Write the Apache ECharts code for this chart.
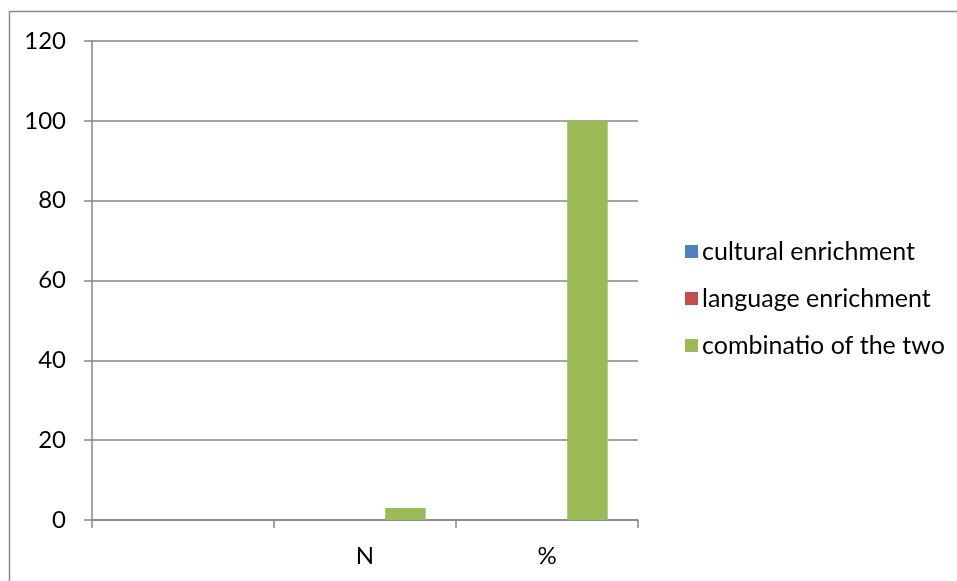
<!DOCTYPE html>
<html>
<head>
<meta charset="utf-8">
<script src="https://cdn.jsdelivr.net/npm/echarts@6/dist/echarts.min.js"></script>
<style>
html,body{margin:0;padding:0;background:#fff;overflow:hidden;}
#c{width:957px;height:581px;}
</style>
</head>
<body>
<div id="c"></div>
<script>
const categories = ['', 'N', '%'];
const culturalEnrichment = [0, 0, 0];
const languageEnrichment = [0, 0, 0];
const combinationOfTwo = [0, 3, 100];
const yTicks = [0, 20, 40, 60, 80, 100, 120];

const FONT = 'Lato';
const GRAY = '#868686';
const chart = echarts.init(document.getElementById('c'));
chart.setOption({
  animation: false,
  backgroundColor: '#fff',
  graphic: [
    { type: 'line', shape: { x1: 9, y1: 11.5, x2: 1000, y2: 11.5 }, style: { stroke: '#8c8c8c', lineWidth: 1.5 } },
    { type: 'line', shape: { x1: 9.5, y1: 11, x2: 9.5, y2: 700 }, style: { stroke: '#8c8c8c', lineWidth: 1.5 } }
  ],
  grid: { left: 92, top: 41, width: 546, height: 479 },
  legend: {
    orient: 'vertical',
    left: 680, top: 234,
    itemWidth: 13, itemHeight: 13, itemGap: 22,
    icon: 'rect',
    textStyle: { fontFamily: FONT, fontSize: 25, color: '#000', padding: [0, 0, 0, -1] },
    data: ['cultural enrichment', 'language enrichment', 'combinatio of the two']
  },
  xAxis: {
    type: 'category',
    data: categories,
    axisLine: { lineStyle: { color: GRAY, width: 1.5 } },
    axisTick: { show: true, length: 8, alignWithLabel: false, lineStyle: { color: GRAY, width: 1.5 } },
    axisLabel: { fontFamily: FONT, fontSize: 24, color: '#000', margin: 24 }
  },
  yAxis: {
    type: 'value',
    min: 0, max: 120, interval: 20,
    axisLine: { show: true, lineStyle: { color: GRAY, width: 1.5 } },
    axisTick: { show: true, length: 8, lineStyle: { color: GRAY, width: 1.5 } },
    splitLine: { lineStyle: { color: GRAY, width: 1.5 } },
    axisLabel: {
      fontFamily: FONT, fontSize: 24, color: '#000', margin: 26,
      formatter: v => yTicks.includes(v) ? String(v) : ''
    }
  },
  series: [
    { name: 'cultural enrichment', type: 'bar', data: culturalEnrichment, itemStyle: { color: '#4F81BD' }, barGap: '0%', barCategoryGap: '33.3%' },
    { name: 'language enrichment', type: 'bar', data: languageEnrichment, itemStyle: { color: '#C0504D' }, barGap: '0%', barCategoryGap: '33.3%' },
    { name: 'combinatio of the two', type: 'bar', data: combinationOfTwo, itemStyle: { color: '#9BBB59' }, barGap: '0%', barCategoryGap: '33.3%' }
  ]
});
</script>
</body>
</html>
